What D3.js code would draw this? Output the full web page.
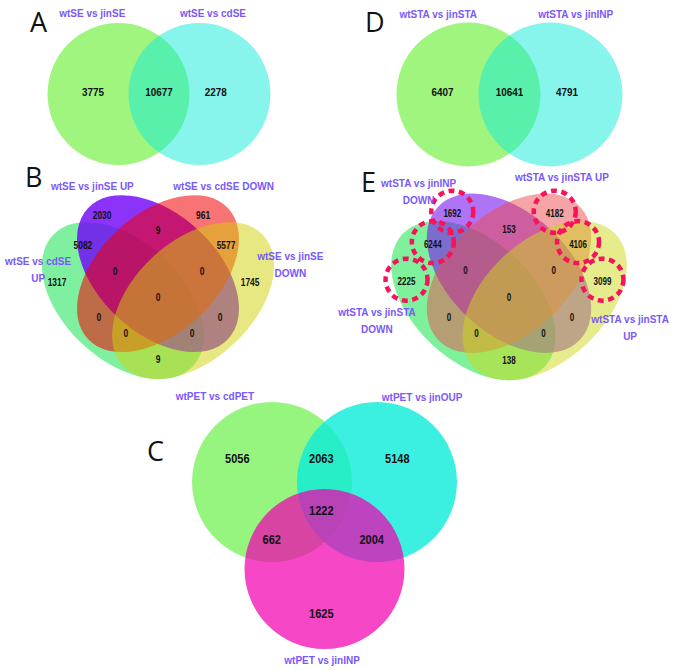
<!DOCTYPE html>
<html><head><meta charset="utf-8">
<script src="https://cdn.jsdelivr.net/npm/d3@7"></script>
<style>
body{margin:0;background:#fff}
svg{display:block}
</style></head><body>
<svg id="c" width="675" height="670"></svg>
<script>
// ---------------- DATA ----------------
const panelLetters = ["A", "B", "C", "D", "E"];

// Panel A (2 sets): [only set1, both, only set2]
const setsA = ["wtSE vs jinSE", "wtSE vs cdSE"];
const countsA = [3775, 10677, 2278];

// Panel D (2 sets)
const setsD = ["wtSTA vs jinSTA", "wtSTA vs jinINP"];
const countsD = [6407, 10641, 4791];

// Panel C (3 sets): [1 only, 1∩2, 2 only, 1∩2∩3, 1∩3, 2∩3, 3 only]
const setsC = ["wtPET vs cdPET", "wtPET vs jinOUP", "wtPET vs jinINP"];
const countsC = [5056, 2063, 5148, 1222, 662, 2004, 1625];

// Panels B and E (4 sets: green, purple, red, yellow)
// regions: [P, R, P∩R, G∩P, R∩Y, G, Y, G∩P∩R, P∩R∩Y, all, G∩R, P∩Y, G∩R∩Y, G∩P∩Y, G∩Y]
const setsB = ["wtSE vs cdSE\nUP", "wtSE vs jinSE UP", "wtSE vs cdSE DOWN", "wtSE vs jinSE\nDOWN"];
const countsB = [2030, 961, 9, 5082, 5577, 1317, 1745, 0, 0, 0, 0, 0, 0, 0, 9];
const setsE = ["wtSTA vs jinSTA\nDOWN", "wtSTA vs jinINP\nDOWN", "wtSTA vs jinSTA UP", "wtSTA vs jinSTA\nUP"];
const countsE = [1692, 4182, 153, 6244, 4106, 2225, 3099, 0, 0, 0, 0, 0, 0, 0, 138];
const highlightedRegionsE = [0, 1, 3, 4, 5, 6];

// ---------------- LAYOUT (unit coordinates) ----------------
const twoCircles = [{cx: -0.57, cy: 0, r: 1}, {cx: 0.57, cy: 0, r: 1}];
const twoCountPos = [[-0.93, -0.03], [0, -0.03], [0.80, -0.03]];

const threeCircles = [{cx: -0.656, cy: -0.3625, r: 1}, {cx: 0.656, cy: -0.3625, r: 1}, {cx: 0, cy: 0.725, r: 1}];
const threeCountPos = [[-1.09, -0.65], [-0.04, -0.65], [0.91, -0.65], [-0.04, 0], [-0.66, 0.36], [0.59, 0.36], [-0.04, 1.29]];

const quadEllipses = [
  {cx: -0.13, cy: 0.0134, rx: 0.355, ry: 0.22, rot: 43},
  {cx: 0, cy: -0.0866, rx: 0.355, ry: 0.22, rot: 43},
  {cx: 0, cy: -0.0866, rx: 0.355, ry: 0.22, rot: -43},
  {cx: 0.13, cy: 0.0134, rx: 0.355, ry: 0.22, rot: -43}
];
const quadCountPos = [[-0.207, -0.304], [0.167, -0.304], [0, -0.248], [-0.278, -0.193], [0.252, -0.193],
  [-0.374, -0.056], [0.341, -0.056], [-0.159, -0.096], [0.163, -0.096], [0, 0],
  [-0.219, 0.074], [0.230, 0.074], [-0.119, 0.133], [0.126, 0.133], [0, 0.230]];

const panels = [
  {type: 2, letter: 0, letterPos: [30, 32], center: [159, 94], unit: 71, sets: setsA, counts: countsA,
   shapes: twoCircles, countPos: twoCountPos, numSize: 11.5, squeeze: 0.86,
   labelPos: [[-0.94, -1.14], [0.76, -1.14]],
   fills: [["rgb(65,235,0)", 0.5], ["rgb(15,235,215)", 0.5]]},
  {type: 2, letter: 3, letterPos: [365, 32], center: [509.5, 94.5], unit: 72, sets: setsD, counts: countsD,
   shapes: twoCircles, countPos: twoCountPos, numSize: 11.5, squeeze: 0.86,
   labelPos: [[-0.99, -1.12], [0.92, -1.12]],
   fills: [["rgb(65,235,0)", 0.5], ["rgb(15,235,215)", 0.5]]},
  {type: 3, letter: 2, letterPos: [147, 461], center: [324.5, 511], unit: 80, sets: setsC, counts: countsC,
   shapes: threeCircles, countPos: threeCountPos, numSize: 12.5, squeeze: 0.88,
   labelPos: [[-1.37, -1.44], [1.22, -1.43], [-0.03, 1.86]],
   fills: [["rgb(45,235,0)", 0.5], ["rgb(11,236,218)", 0.8], ["rgb(241,0,176)", 0.72]]},
  {type: 4, letter: 1, letterPos: [25, 187], center: [158, 297], unit: 270, sets: setsB, counts: countsB,
   shapes: quadEllipses, countPos: quadCountPos, numSize: 10.5, squeeze: 0.8,
   labelPos: [[-0.444, -0.134], [-0.243, -0.410], [0.243, -0.410], [0.49, -0.153]],
   fills: [["rgb(0,225,65)", 0.5], ["rgb(111,0,249)", 0.8], ["rgb(242,0,0)", 0.55], ["rgb(209,209,5)", 0.5]]},
  {type: 4, letter: 4, letterPos: [361, 192], center: [509, 297], unit: 274, sets: setsE, counts: countsE,
   shapes: quadEllipses, countPos: quadCountPos, numSize: 10, squeeze: 0.8,
   labelPos: [[-0.482, 0.055], [-0.33, -0.416], [0.193, -0.438], [0.442, 0.080]],
   fills: [["rgb(0,225,55)", 0.5], ["rgb(122,22,238)", 0.6], ["rgb(235,75,75)", 0.5], ["rgb(205,215,25)", 0.5]],
   highlight: highlightedRegionsE}
];

// ---------------- DRAW ----------------
const svg = d3.select("#c");
const LABEL_COLOR = "#7a58fa";
const NUM_FONT = "'Liberation Sans',Arial,sans-serif";
const LBL_FONT = "'Liberation Sans',Arial,sans-serif";

panels.forEach(p => {
  const x = d3.scaleLinear().domain([-1, 1]).range([p.center[0] - p.unit, p.center[0] + p.unit]);
  const y = d3.scaleLinear().domain([-1, 1]).range([p.center[1] - p.unit, p.center[1] + p.unit]);
  const k = p.unit;
  const g = svg.append("g");

  // shapes
  if (p.type === 4) {
    g.selectAll("ellipse").data(p.shapes).join("ellipse")
      .attr("cx", 0).attr("cy", 0)
      .attr("rx", d => d.rx * k).attr("ry", d => d.ry * k)
      .attr("transform", d => `translate(${x(d.cx)},${y(d.cy)}) rotate(${d.rot})`)
      .attr("fill", (d, i) => p.fills[i][0])
      .attr("fill-opacity", (d, i) => p.fills[i][1]);
  } else {
    g.selectAll("circle").data(p.shapes).join("circle")
      .attr("cx", d => x(d.cx)).attr("cy", d => y(d.cy)).attr("r", d => d.r * k)
      .attr("fill", (d, i) => p.fills[i][0])
      .attr("fill-opacity", (d, i) => p.fills[i][1]);
  }

  // highlight dashed rings
  if (p.highlight) {
    g.selectAll("circle.hl").data(p.highlight).join("circle")
      .attr("class", "hl")
      .attr("cx", i => x(p.countPos[i][0]))
      .attr("cy", i => y(p.countPos[i][1]) - 2)
      .attr("r", 21)
      .attr("fill", "none")
      .attr("stroke", "#f8125c")
      .attr("stroke-width", 4.5)
      .attr("stroke-dasharray", "6,4.5");
  }

  // counts
  g.selectAll("text.num").data(p.counts).join("text")
    .attr("class", "num")
    .attr("x", (d, i) => x(p.countPos[i][0]))
    .attr("y", (d, i) => y(p.countPos[i][1]))
    .attr("text-anchor", "middle")
    .attr("dominant-baseline", "central")
    .attr("font-family", NUM_FONT)
    .attr("font-weight", "bold")
    .attr("font-size", p.numSize)
    .attr("fill", "#111")
    .text(d => d)
    .each(function () {
      const w = this.getComputedTextLength();
      this.setAttribute("textLength", w * p.squeeze);
      this.setAttribute("lengthAdjust", "spacingAndGlyphs");
    });

  // set labels
  p.sets.forEach((name, i) => {
    const lx = x(p.labelPos[i][0]), ly = y(p.labelPos[i][1]);
    const t = g.append("text")
      .attr("text-anchor", "middle")
      .attr("dominant-baseline", "central")
      .attr("font-family", LBL_FONT)
      .attr("font-weight", "bold")
      .attr("font-size", 10)
      .attr("fill", LABEL_COLOR);
    name.split("\n").forEach((line, j) => {
      t.append("tspan").attr("x", lx).attr("y", ly + j * 17).text(line);
    });
  });

  // panel letter
  svg.append("text")
    .attr("x", p.letterPos[0]).attr("y", p.letterPos[1])
    .attr("font-family", "'Open Sans',sans-serif")
    .attr("font-size", 27)
    .attr("fill", "#111")
    .text(panelLetters[p.letter]);
});
</script>
</body></html>
